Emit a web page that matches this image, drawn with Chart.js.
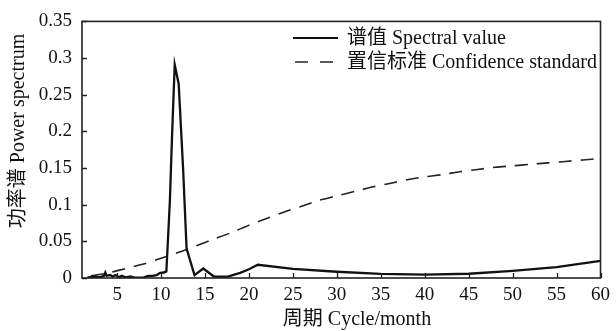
<!DOCTYPE html>
<html>
<head>
<meta charset="utf-8">
<script src="https://cdn.jsdelivr.net/npm/chart.js@4/dist/chart.umd.min.js"></script>
<style>
  html, body { margin: 0; padding: 0; background: #fff; }
  #wrap { width: 616px; height: 331px; position: relative; }
</style>
</head>
<body>
<div id="wrap"><canvas id="c" width="616" height="331"></canvas></div>
<script>
// ---- data ----
const spectralPeriod = [1.6, 2.5, 3.0, 3.5, 3.65, 3.8, 4.2, 4.5, 4.8, 5.2, 5.5, 6.0, 6.5, 7.0, 8.0, 8.5, 9.0, 9.5, 9.9, 10.3, 10.6, 10.75, 11.0, 11.25, 11.55, 12.0, 12.5, 12.9, 13.8, 14.8, 16.0, 17.6, 19.0, 20.0, 21.0, 25.0, 30.0, 35.0, 40.0, 45.0, 50.0, 55.0, 60.0];
const spectralValue  = [0.0005, 0.002, 0.001, 0.003, 0.0075, 0.003, 0.004, 0.002, 0.004, 0.001, 0.003, 0.001, 0.002, 0.0005, 0.0005, 0.003, 0.003, 0.004, 0.007, 0.0075, 0.009, 0.045, 0.105, 0.195, 0.291, 0.265, 0.15, 0.04, 0.004, 0.013, 0.002, 0.002, 0.007, 0.012, 0.018, 0.0125, 0.0085, 0.0055, 0.0045, 0.0058, 0.0098, 0.0148, 0.0235];
const confPeriod = [2, 4, 6, 8, 10, 12, 14, 16, 18, 20, 22, 24, 26, 28, 30, 32, 34, 36, 38, 40, 42, 44, 46, 48, 50, 52, 54, 56, 58, 60];
const confValue  = [0.003, 0.007, 0.013, 0.019, 0.027, 0.035, 0.044, 0.053, 0.062, 0.072, 0.081, 0.090, 0.098, 0.106, 0.112, 0.118, 0.124, 0.129, 0.134, 0.138, 0.141, 0.145, 0.148, 0.151, 0.153, 0.155, 0.157, 0.159, 0.161, 0.163];
const xTicks = [5, 10, 15, 20, 25, 30, 35, 40, 45, 50, 55, 60];
const yTicks = [0, 0.05, 0.1, 0.15, 0.2, 0.25, 0.3, 0.35];
const yTickLabels = ['0', '0.05', '0.1', '0.15', '0.2', '0.25', '0.3', '0.35'];
const seriesLabels = ['谱值 Spectral value', '置信标准 Confidence standard'];
const xTitle = '周期 Cycle/month';
const yTitle = '功率谱 Power spectrum';

const FONT = '"Liberation Serif", "Noto Sans CJK SC", serif';
const FS = 19;
const FS_TEXT = 20;

const spectralData = spectralPeriod.map((p, i) => ({ x: p, y: spectralValue[i] }));
const confData = confPeriod.map((p, i) => ({ x: p, y: confValue[i] }));

const frameAndDecor = {
  id: 'frameAndDecor',
  afterDraw(chart) {
    const ctx = chart.ctx;
    const a = chart.chartArea;
    const xs = chart.scales.x, ys = chart.scales.y;
    ctx.save();
    // inward ticks
    ctx.strokeStyle = '#222';
    ctx.lineWidth = 1.3;
    ctx.beginPath();
    xs.ticks.forEach(t => {
      const px = Math.round(xs.getPixelForValue(t.value)) + 0.5;
      ctx.moveTo(px, a.bottom); ctx.lineTo(px, a.bottom - 5);
    });
    ys.ticks.forEach(t => {
      const py = Math.round(ys.getPixelForValue(t.value)) + 0.5;
      ctx.moveTo(a.left, py); ctx.lineTo(a.left + 5, py);
    });
    ctx.stroke();
    // frame
    ctx.lineWidth = 1.6;
    ctx.strokeRect(a.left, a.top, a.right - a.left, a.bottom - a.top);

    // legend
    const ds = chart.data.datasets;
    ctx.font = FS_TEXT + 'px ' + FONT;
    ctx.fillStyle = '#111';
    ctx.textBaseline = 'middle';
    ctx.textAlign = 'left';
    const rows = [38, 62];
    ds.forEach((d, i) => {
      ctx.beginPath();
      ctx.strokeStyle = d.borderColor;
      ctx.lineWidth = i === 0 ? 2 : 1.6;
      ctx.setLineDash(i === 0 ? [] : [13, 12]);
      ctx.moveTo(i === 0 ? 293 : 295, rows[i]);
      ctx.lineTo(i === 0 ? 338 : 334, rows[i]);
      ctx.stroke();
      ctx.setLineDash([]);
      ctx.fillText(d.label, 347, rows[i] + 1);
    });

    // axis titles
    ctx.textAlign = 'center';
    ctx.fillText(xTitle, 357, 320);
    ctx.translate(19, 131);
    ctx.rotate(-Math.PI / 2);
    ctx.fillText(yTitle, 0, 0);
    ctx.restore();
  }
};

new Chart(document.getElementById('c'), {
  type: 'line',
  data: {
    datasets: [
      { label: seriesLabels[0], data: spectralData, borderColor: '#111', borderWidth: 2.3, pointRadius: 0, tension: 0, fill: false },
      { label: seriesLabels[1], data: confData, borderColor: '#222', borderWidth: 1.6, borderDash: [13, 9], pointRadius: 0, tension: 0.3, fill: false }
    ]
  },
  options: {
    responsive: false,
    animation: false,
    events: [],
    layout: { padding: { left: 0, right: 13, top: 19, bottom: 0 } },
    plugins: { legend: { display: false }, tooltip: { enabled: false } },
    scales: {
      x: {
        type: 'linear', min: 1, max: 60,
        afterBuildTicks: s => { s.ticks = xTicks.map(v => ({ value: v })); },
        afterFit: s => { s.height = 53; },
        grid: { display: false, drawTicks: false },
        border: { display: false },
        ticks: { color: '#111', font: { family: FONT, size: FS }, padding: 6, maxRotation: 0, autoSkip: false,
                 callback: v => String(v) }
      },
      y: {
        type: 'linear', min: 0, max: 0.35,
        afterBuildTicks: s => { s.ticks = yTicks.map(v => ({ value: v })); },
        afterFit: s => { s.width = 82; },
        grid: { display: false, drawTicks: false },
        border: { display: false },
        ticks: { color: '#111', font: { family: FONT, size: FS }, padding: 10, autoSkip: false,
                 callback: (v, i) => yTickLabels[i] }
      }
    }
  },
  plugins: [frameAndDecor]
});
</script>
</body>
</html>
